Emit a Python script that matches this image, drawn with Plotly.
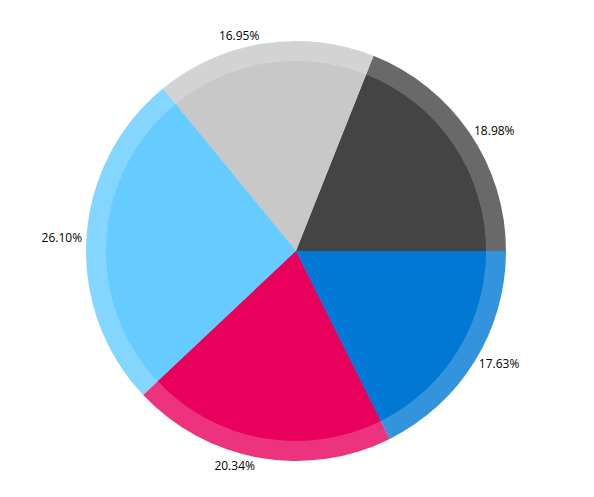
import plotly.graph_objects as go

labels = ["A", "B", "C", "D", "E"]
values = [18.98, 16.95, 26.10, 20.34, 17.63]
colors = ["#444444", "#c8c8c8", "#66ccff", "#e8005c", "#0078d4"]
ring_colors = ["rgba(68,68,68,0.8)", "rgba(200,200,200,0.8)", "rgba(102,204,255,0.8)",
               "rgba(232,0,92,0.8)", "rgba(0,120,212,0.8)"]

W, H = 594, 497
cx, cy, R, r_in = 288, 243, 210, 190
rot = 90 - values[0] / sum(values) * 360

def dom(rad):
    return dict(x=[(cx - rad) / W, (cx + rad) / W], y=[1 - (cy + rad) / H, 1 - (cy - rad) / H])

fig = go.Figure()
fig.add_trace(go.Pie(
    labels=labels, values=values, sort=False, direction="counterclockwise", rotation=rot,
    marker=dict(colors=ring_colors, line=dict(width=0)),
    texttemplate="%{percent:.2%}", textposition="outside",
    textfont=dict(family="Open Sans", size=12, color="#000000"),
    domain=dom(R), showlegend=False, hoverinfo="skip",
))
fig.add_trace(go.Pie(
    labels=labels, values=values, sort=False, direction="counterclockwise", rotation=rot,
    marker=dict(colors=colors, line=dict(width=0)),
    textinfo="none", domain=dom(r_in), showlegend=False, hoverinfo="skip",
))
fig.update_layout(width=W, height=H, margin=dict(l=0, r=0, t=0, b=0),
                  paper_bgcolor="white", plot_bgcolor="white")
fig.write_html("out.html")
